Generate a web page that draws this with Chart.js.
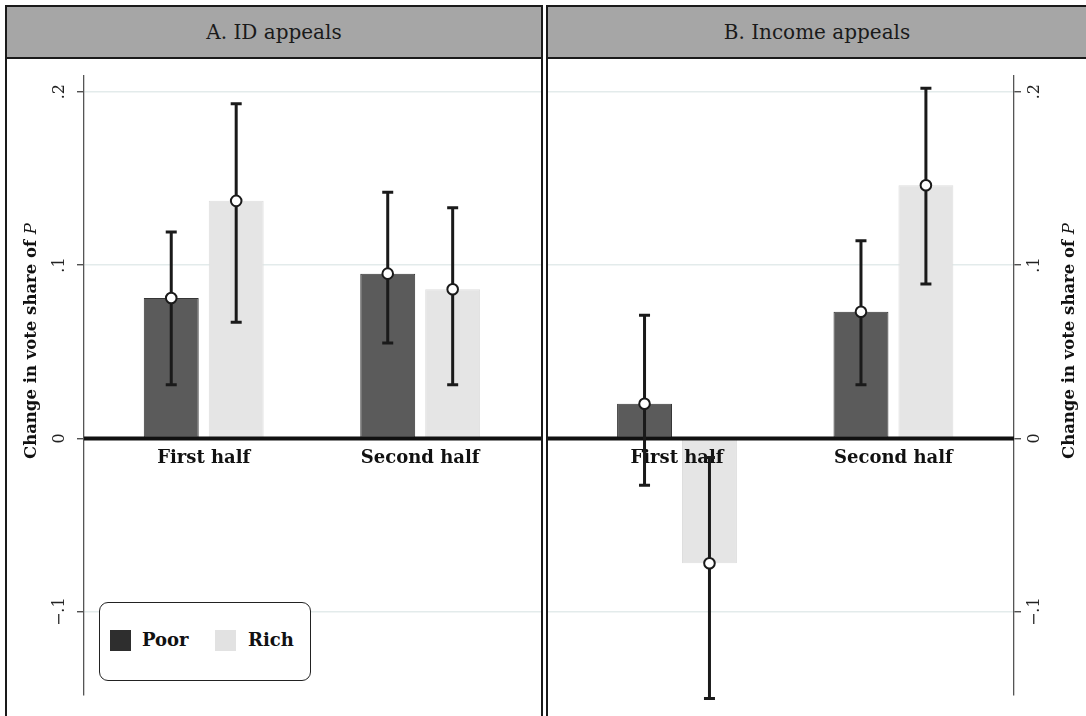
<!DOCTYPE html>
<html>
<head>
<meta charset="utf-8">
<script src="https://cdn.jsdelivr.net/npm/chart.js@4.4.0/dist/chart.umd.min.js"></script>
<style>
  body { margin: 0; width: 1086px; height: 716px; overflow: hidden; background: #fff; font-family: "DejaVu Serif", serif; position: relative; }
  .panel { position: absolute; top: 5px; height: 740px; border: 2px solid #1a1a1a; box-sizing: border-box; background: #fff; overflow: hidden; }
  .head { height: 50px; background: #a6a6a6; border-bottom: 2px solid #1a1a1a; text-align: center; line-height: 50px; font-size: 20px; color: #1a1a1a; }
  .panel canvas { position: absolute; left: 0; top: 52px; }
  #legend { position: absolute; left: 99px; top: 602px; width: 212px; height: 79px; border: 1.5px solid #222; border-radius: 9px; box-sizing: border-box; background: #fff; }
  .sw { position: absolute; width: 21px; height: 21px; top: 27px; }
  .lab { position: absolute; top: 26px; font-weight: bold; font-size: 18px; line-height: 22px; color: #111; }
</style>
</head>
<body>
<div class="panel" style="left:5px;width:538px"><div class="head" id="headA"></div><canvas id="chartA" width="534" height="660"></canvas></div>
<div class="panel" style="left:546px;width:600px"><div class="head" id="headB" style="width:538px"></div><canvas id="chartB" width="538" height="660"></canvas></div>
<div id="legend"></div>
<script>
// ---- data ----
const CATEGORIES = ['First half', 'Second half'];
const SERIES = ['Poor', 'Rich'];
const PANELS = ['A. ID appeals', 'B. Income appeals'];
const Y_TICKS = [-0.1, 0, 0.1, 0.2];
const Y_TICK_LABELS = ['\u2212.1', '0', '.1', '.2'];
const Y_TITLE = 'Change in vote share of ';
const Y_TITLE_VAR = 'P';

// A. ID appeals
const ID_POOR = [0.081, 0.095];
const ID_POOR_LO = [0.031, 0.055];
const ID_POOR_HI = [0.119, 0.142];
const ID_RICH = [0.137, 0.086];
const ID_RICH_LO = [0.067, 0.031];
const ID_RICH_HI = [0.193, 0.133];

// B. Income appeals
const INC_POOR = [0.020, 0.073];
const INC_POOR_LO = [-0.027, 0.031];
const INC_POOR_HI = [0.071, 0.114];
const INC_RICH = [-0.072, 0.146];
const INC_RICH_LO = [-0.150, 0.089];
const INC_RICH_HI = [-0.011, 0.202];

// ---- style ----
const FILL = ['#5b5b5b', '#e5e5e5'];
const EDGE = ['#363636', '#dedede'];
const SWATCH = ['#2e2e2e', '#e2e2e2'];
const INK = '#1a1a1a';
const CAT_PCT = 0.6;
const FONT = '"DejaVu Serif", serif';

document.getElementById('headA').textContent = PANELS[0];
document.getElementById('headB').textContent = PANELS[1];

// legend
const leg = document.getElementById('legend');
SERIES.forEach((s, i) => {
  const sw = document.createElement('div');
  sw.className = 'sw'; sw.style.left = (10 + i * 105) + 'px'; sw.style.background = SWATCH[i];
  const lb = document.createElement('div');
  lb.className = 'lab'; lb.style.left = (42 + i * 106) + 'px'; lb.textContent = s;
  leg.appendChild(sw); leg.appendChild(lb);
});

// extra drawing: zero line, category labels, error bars, rotated tick labels, axis title
const decor = {
  id: 'decor',
  beforeDatasetDraw(chart, args) {
    if (args.meta.type !== 'scatter') return;
    const ctx = chart.ctx, x = chart.scales.x, y = chart.scales.y, a = chart.chartArea;
    const o = chart.options.plugins.decor;
    const y0 = y.getPixelForValue(0);
    ctx.save();
    // category labels
    ctx.font = 'bold 18px ' + FONT; ctx.fillStyle = '#111';
    ctx.textAlign = 'center'; ctx.textBaseline = 'middle';
    CATEGORIES.forEach((c, i) => ctx.fillText(c, x.getPixelForValue(i + 1), y0 + 20));
    // zero line
    ctx.strokeStyle = '#111'; ctx.lineWidth = 4;
    ctx.beginPath(); ctx.moveTo(a.left, y0); ctx.lineTo(a.right, y0); ctx.stroke();
    // error bars
    ctx.strokeStyle = INK; ctx.lineWidth = 3;
    o.ci.forEach((ci, d) => {
      chart.getDatasetMeta(d).data.forEach((el, i) => {
        const lo = y.getPixelForValue(ci[0][i]), hi = y.getPixelForValue(ci[1][i]);
        ctx.beginPath();
        ctx.moveTo(el.x, lo); ctx.lineTo(el.x, hi);
        ctx.moveTo(el.x - 5.5, lo); ctx.lineTo(el.x + 5.5, lo);
        ctx.moveTo(el.x - 5.5, hi); ctx.lineTo(el.x + 5.5, hi);
        ctx.stroke();
      });
    });
    ctx.restore();
  },
  afterDraw(chart) {
    const ctx = chart.ctx, y = chart.scales.y;
    const o = chart.options.plugins.decor;
    ctx.save();
    ctx.fillStyle = '#222';
    ctx.font = '16px ' + FONT;
    ctx.textAlign = 'center'; ctx.textBaseline = 'middle';
    Y_TICKS.forEach((t, i) => {
      ctx.save();
      ctx.translate(o.tickX, y.getPixelForValue(t));
      ctx.rotate(-Math.PI / 2);
      ctx.fillText(Y_TICK_LABELS[i], 0, 0);
      ctx.restore();
    });
    // axis title with italic variable
    const fb = 'bold 16.5px ' + FONT, fi = 'italic 16.5px ' + FONT;
    ctx.font = fb; const wa = ctx.measureText(Y_TITLE).width;
    ctx.font = fi; const wb = ctx.measureText(Y_TITLE_VAR).width;
    ctx.translate(o.titleX, o.titleY);
    ctx.rotate(-Math.PI / 2);
    ctx.textAlign = 'left'; ctx.fillStyle = '#111';
    ctx.font = fb; ctx.fillText(Y_TITLE, -(wa + wb) / 2, 0);
    ctx.font = fi; ctx.fillText(Y_TITLE_VAR, -(wa + wb) / 2 + wa, 0);
    ctx.restore();
  }
};

function makeChart(id, poor, rich, ciPoor, ciRich, opts) {
  const bars = [poor, rich].map((vals, s) => ({
    type: 'bar',
    label: SERIES[s],
    data: vals.map((v, i) => ({ x: i + 1, y: v })),
    backgroundColor: FILL[s],
    borderColor: EDGE[s],
    borderWidth: 1,
    borderSkipped: false,
    categoryPercentage: CAT_PCT,
    barPercentage: 0.846,
    order: 2
  }));
  const pts = [];
  [poor, rich].forEach((vals, s) => vals.forEach((v, i) => pts.push({ x: i + 1 + (s - 0.5) * CAT_PCT / 2, y: v })));
  return new Chart(document.getElementById(id), {
    type: 'bar',
    data: {
      datasets: [...bars, {
        type: 'scatter', data: pts, order: 1,
        pointRadius: 5.3, pointBackgroundColor: '#fff', pointBorderColor: INK, pointBorderWidth: 2
      }]
    },
    options: {
      responsive: false,
      animation: false,
      layout: { autoPadding: false, padding: { top: 17, bottom: 24, left: 0, right: 0 } },
      plugins: {
        legend: { display: false }, tooltip: { enabled: false },
        decor: { ci: [ciPoor, ciRich], tickX: opts.tickX, titleX: opts.titleX, titleY: 282 }
      },
      scales: {
        x: {
          type: 'linear', display: false, offset: false, grid: { offset: false },
          min: opts.xmin, max: opts.xmax,
          afterBuildTicks: s => { s.ticks = CATEGORIES.map((c, i) => ({ value: i + 1 })); }
        },
        y: {
          position: opts.pos, min: -0.148, max: 0.209,
          afterBuildTicks: s => { s.ticks = Y_TICKS.map(v => ({ value: v })); },
          afterFit: s => { s.width = opts.axisW; },
          ticks: { display: false },
          border: { display: true, color: '#555', width: 1.3 },
          grid: {
            color: c => c.tick && c.tick.value === 0 ? 'rgba(0,0,0,0)' : '#e3ebeb',
            lineWidth: 1.5, tickColor: '#333', tickLength: 7, tickWidth: 1.2
          }
        }
      }
    },
    plugins: [decor]
  });
}

makeChart('chartA', ID_POOR, ID_RICH, [ID_POOR_LO, ID_POOR_HI], [ID_RICH_LO, ID_RICH_HI],
  { pos: 'left', axisW: 77, xmin: 0.447, xmax: 2.558, tickX: 53, titleX: 25 });
makeChart('chartB', INC_POOR, INC_RICH, [INC_POOR_LO, INC_POOR_HI], [INC_RICH_LO, INC_RICH_HI],
  { pos: 'right', axisW: 72, xmin: 0.404, xmax: 2.557, tickX: 487, titleX: 522 });
</script>
</body>
</html>
